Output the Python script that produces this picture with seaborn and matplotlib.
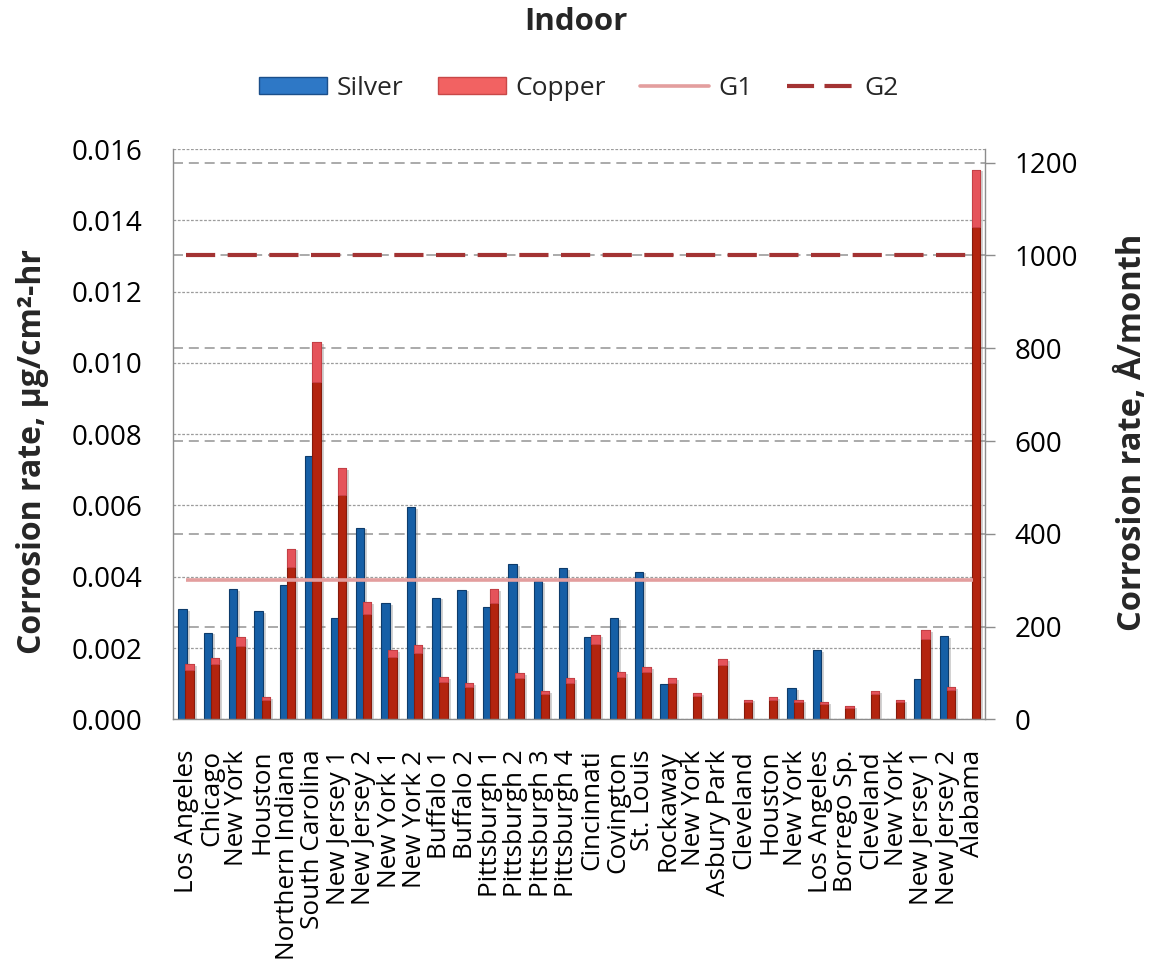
import numpy as np
import pandas as pd
import matplotlib
matplotlib.use("Agg")
import matplotlib.pyplot as plt
import matplotlib.patheffects as pe
from matplotlib.patches import Patch, Rectangle
from matplotlib.lines import Line2D
from matplotlib.transforms import blended_transform_factory
import seaborn as sns

# ---- data -------------------------------------------------------------
sites = ["Los Angeles", "Chicago", "New York", "Houston", "Northern Indiana",
         "South Carolina", "New Jersey 1", "New Jersey 2", "New York 1",
         "New York 2", "Buffalo 1", "Buffalo 2", "Pittsburgh 1", "Pittsburgh 2",
         "Pittsburgh 3", "Pittsburgh 4", "Cincinnati", "Covington", "St. Louis",
         "Rockaway", "New York", "Asbury Park", "Cleveland", "Houston",
         "New York", "Los Angeles", "Borrego Sp.", "Cleveland", "New York",
         "New Jersey 1", "New Jersey 2", "Alabama"]

# corrosion rate, ug/cm2-hr (NaN = not measured)
silver = [0.00309, 0.00243, 0.00366, 0.00303, 0.00378, 0.00738, 0.00284,
          0.00538, 0.00325, 0.00595, 0.00341, 0.00364, 0.00314, 0.00435,
          0.00388, 0.00424, 0.00232, 0.00284, 0.00414, 0.00098, np.nan,
          np.nan, np.nan, np.nan, 0.00088, 0.00194, np.nan, np.nan, np.nan,
          0.00112, 0.00233, np.nan]
copper = [0.00154, 0.00172, 0.00230, 0.00062, 0.00479, 0.01058, 0.00704,
          0.00329, 0.00194, 0.00208, 0.00118, 0.00101, 0.00365, 0.00129,
          0.00079, 0.00115, 0.00236, 0.00133, 0.00147, 0.00115, 0.00073,
          0.00169, 0.00055, 0.00062, 0.00054, 0.00048, 0.00037, 0.00079,
          0.00054, 0.00251, 0.00091, 0.01542]

# severity guide levels, A/month
g1_level = 300
g2_level = 1000

left_ticks = [0.000, 0.002, 0.004, 0.006, 0.008, 0.010, 0.012, 0.014, 0.016]
right_ticks = [0, 200, 400, 600, 800, 1000, 1200]

# ---- style ------------------------------------------------------------
sns.set_theme(style="white")
plt.rcParams["font.family"] = ["Open Sans", "DejaVu Sans"]

blue = "#165FA6"
blue_edge = "#0D3B6B"
red = "#B3240F"
red_edge = "#861A0B"
red_cap = "#E5535A"
g1_color = "#E39E9E"
g2_color = "#A33333"
grid_color = "#9C9C9C"

fig = plt.figure(figsize=(11.51, 9.71), dpi=100)
ax = fig.add_axes([0.1506, 0.2592, 0.7055, 0.5873])

n = len(sites)
pos = list(range(n))
df = pd.DataFrame({
    "pos": pos * 2,
    "metal": ["Silver"] * n + ["Copper"] * n,
    "rate": silver + copper,
}).dropna()

sns.barplot(data=df, x="pos", y="rate", hue="metal",
            hue_order=["Silver", "Copper"],
            palette={"Silver": blue, "Copper": red},
            dodge=True, width=0.56, errorbar=None, legend=False,
            saturation=1, ax=ax)

shadow = [pe.SimplePatchShadow(offset=(2.2, -1.2), shadow_rgbFace="#808080",
                               alpha=0.35), pe.Normal()]
for container, edge in zip(ax.containers, [blue_edge, red_edge]):
    for bar in container:
        cx = bar.get_x() + bar.get_width() / 2
        bar.set_width(0.33)
        bar.set_x(cx - 0.165)
        bar.set_edgecolor(edge)
        bar.set_linewidth(0.8)
        bar.set_path_effects(shadow)

# lighter bevel cap on the copper bars
for bar in ax.containers[1]:
    h = bar.get_height()
    ax.add_patch(Rectangle((bar.get_x(), h * 0.895), bar.get_width(), h * 0.105,
                           facecolor=red_cap, edgecolor="#C8424A", lw=0.6,
                           zorder=bar.get_zorder() + 0.1))

# right axis (A/month) with the guide lines
ax2 = ax.twinx()
sns.lineplot(x=pos, y=[g1_level] * n, ax=ax2, color=g1_color, lw=2.6)
sns.lineplot(x=pos, y=[g2_level] * n, ax=ax2, color=g2_color, lw=3.0)
ax2.lines[-1].set_dashes((7.0, 3.0))
for ln in ax2.lines:
    ln.set_solid_capstyle("butt")
    ln.set_dash_capstyle("butt")

# right-axis gridlines drawn underneath the bars
trans = blended_transform_factory(ax.transAxes, ax2.transData)
for t in right_ticks[1:]:
    ax.plot([0, 1], [t, t], transform=trans, color=grid_color, lw=1.2,
            ls=(0, (6, 3.5)), zorder=0.6, scalex=False, scaley=False)

ax.set_xlim(-0.5, n - 0.5)
ax.set_ylim(0, 0.016)
ax2.set_ylim(0, 1229.5)

# left axis
ax.set_yticks(left_ticks)
ax.set_yticklabels([f"{t:.3f}" for t in left_ticks])
ax.yaxis.grid(True, color=grid_color, lw=0.9, ls=(0, (2.2, 1.3)))
ax.set_axisbelow(True)
ax.tick_params(axis="y", length=0, pad=22, labelsize=20, labelcolor="black")
ax.set_xticks(pos)
ax.set_xticklabels(sites, rotation=90, fontsize=18.8)
ax.tick_params(axis="x", length=0, pad=22, labelcolor="black")
ax.set_xlabel("")
ax.set_ylabel("")

# right axis
ax2.set_yticks(right_ticks)
ax2.set_yticklabels([str(t) for t in right_ticks])
ax2.grid(False)
ax2.tick_params(axis="y", right=True, length=7, width=1, color="#8C8C8C",
                pad=14, labelsize=20, labelcolor="black")
ax2.set_ylabel("")
ax2.set_xlabel("")

for s in ["top", "right"]:
    ax.spines[s].set_visible(False)
for s in ["left", "bottom"]:
    ax.spines[s].set_color("#8C8C8C")
    ax.spines[s].set_linewidth(1.0)
for s in ["top", "left", "bottom"]:
    ax2.spines[s].set_visible(False)
ax2.spines["right"].set_color("#8C8C8C")
ax2.spines["right"].set_linewidth(1.0)

# titles and axis labels
fig.text(0.5, 0.977, "Indoor", ha="center", va="center",
         fontsize=22.5, fontweight="bold")
fig.text(0.028, 0.535, "Corrosion rate, µg/cm²-hr", rotation=90,
         ha="center", va="center", fontsize=23, fontweight="bold")
fig.text(0.984, 0.555, "Corrosion rate, Å/month", rotation=90,
         ha="center", va="center", fontsize=23.5, fontweight="bold")

handles = [
    Patch(facecolor="#2E78C6", edgecolor="#1B4F8A", label="Silver"),
    Patch(facecolor="#F26262", edgecolor="#C84848", label="Copper"),
    Line2D([], [], color=g1_color, lw=2.6, label="G1"),
    Line2D([], [], color=g2_color, lw=3.0, dashes=(6.5, 2.5), label="G2"),
]
fig.legend(handles=handles, loc="center", bbox_to_anchor=(0.503, 0.909),
           ncol=4, frameon=False, fontsize=19, handlelength=2.6,
           handleheight=0.65, handletextpad=0.35, columnspacing=1.3)

fig.savefig("out.png", dpi=100, facecolor="white")
